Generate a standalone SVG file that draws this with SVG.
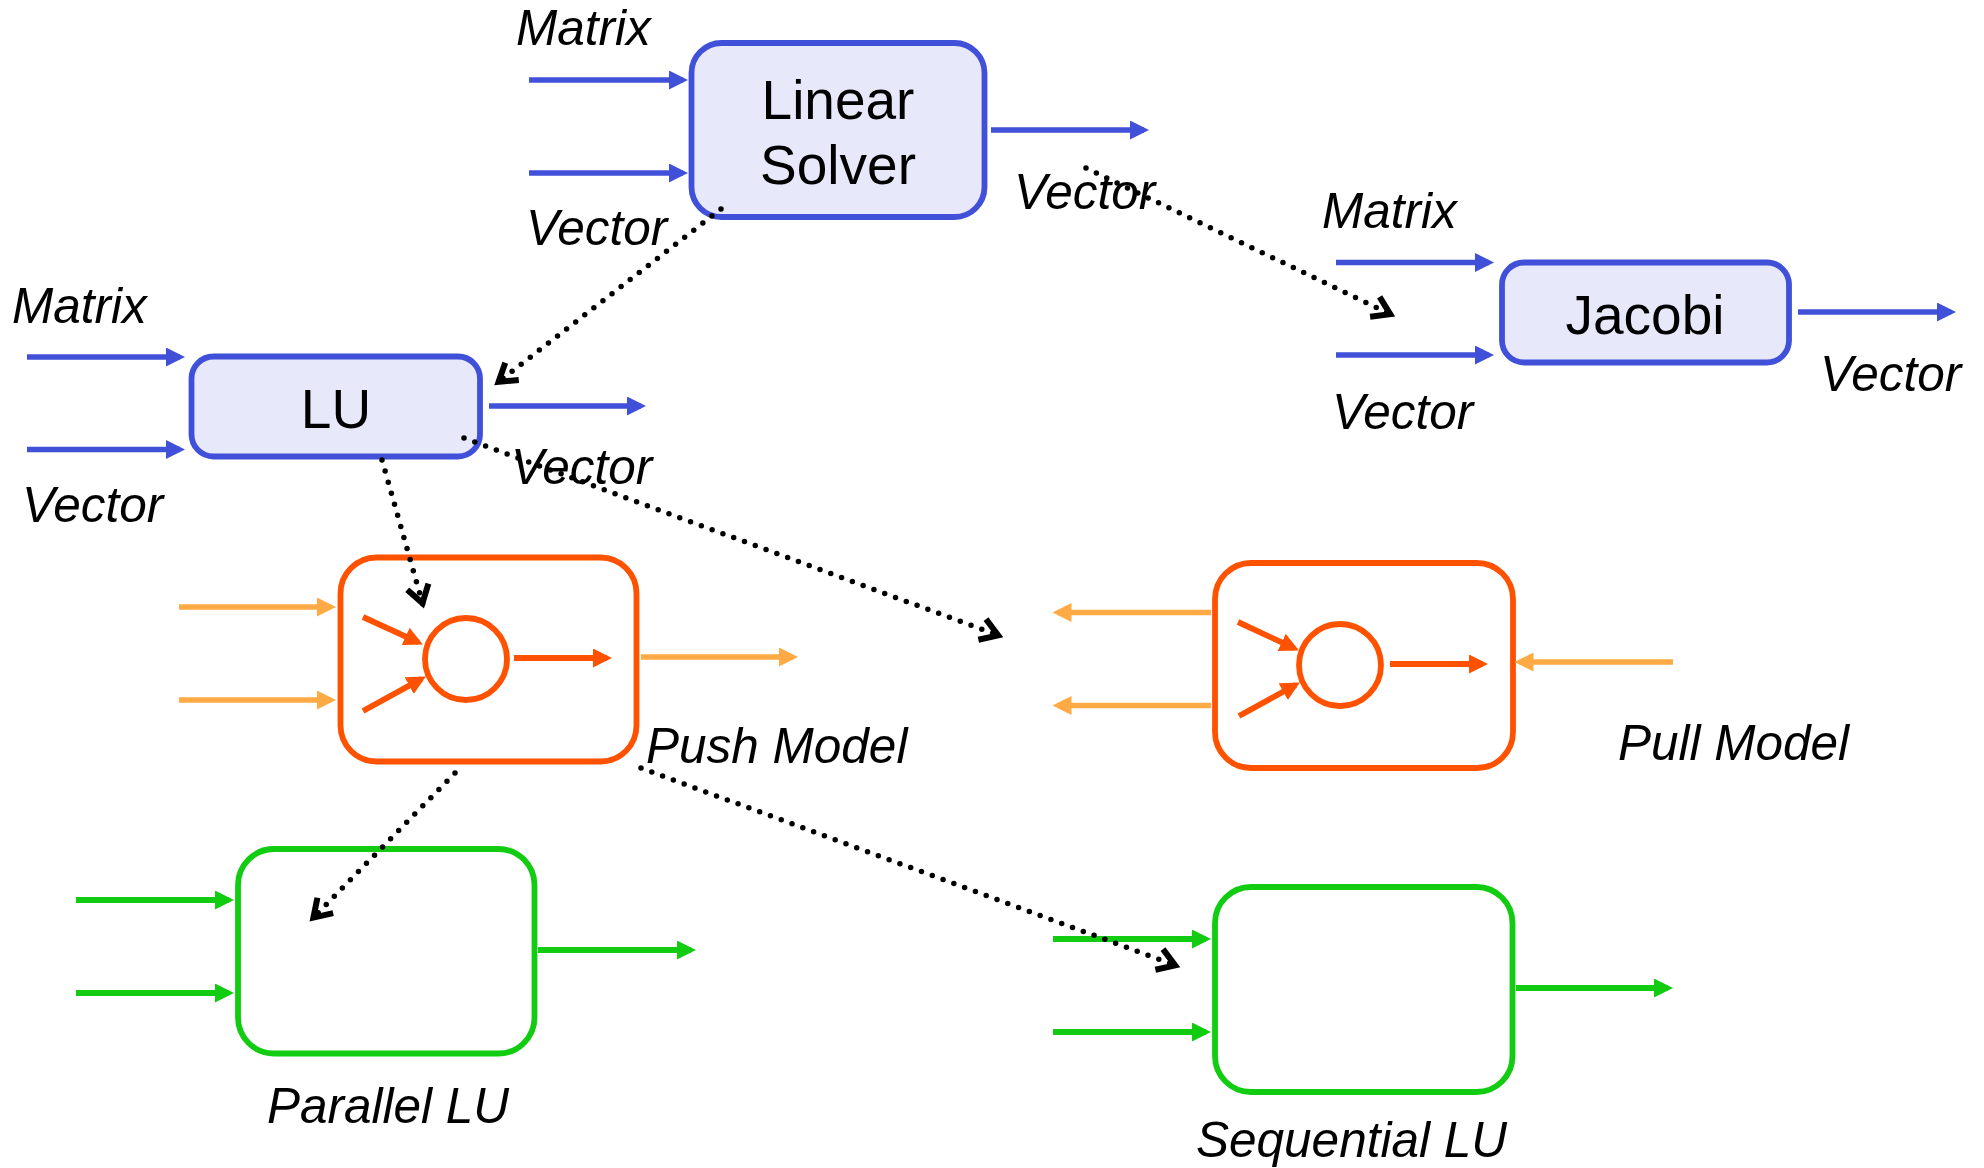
<svg xmlns="http://www.w3.org/2000/svg" width="1984" height="1168" viewBox="0 0 1984 1168">
  <style>
    .box { stroke-width: 5.8; }
    .blue { fill: #E8E8FB; stroke: #4150D8; }
    .orange { fill: #FFFFFF; stroke: #FF5200; }
    .green { fill: #FFFFFF; stroke: #11CC11; }
    .title { font-family: "Liberation Sans", Arial, sans-serif; font-size: 55px; fill: #000; text-anchor: middle; }
    .label { font-family: "Liberation Sans", Arial, sans-serif; font-size: 49.5px; font-style: italic; fill: #000; }
    .wb { stroke: #4150D8; stroke-width: 5.5; fill: none; marker-end: url(#hb); }
    .wl { stroke: #FFAA44; stroke-width: 5.5; fill: none; marker-end: url(#hl); }
    .wo { stroke: #FF5200; stroke-width: 5.8; fill: none; marker-end: url(#ho); }
    .wg { stroke: #11CC11; stroke-width: 5.8; fill: none; marker-end: url(#hg); }
    .dot { stroke: #000; stroke-width: 5.5; fill: none; stroke-dasharray: 0 11.5; stroke-linecap: round; marker-end: url(#hd); }
  </style>
  <defs>
    <marker id="hb" markerUnits="userSpaceOnUse" markerWidth="19" markerHeight="19" refX="14" refY="9.5" orient="auto"><path d="M0,0 L19,9.5 L0,19 z" fill="#4150D8"/></marker>
    <marker id="hl" markerUnits="userSpaceOnUse" markerWidth="19" markerHeight="19" refX="14" refY="9.5" orient="auto"><path d="M0,0 L19,9.5 L0,19 z" fill="#FFAA44"/></marker>
    <marker id="ho" markerUnits="userSpaceOnUse" markerWidth="19" markerHeight="19" refX="14" refY="9.5" orient="auto"><path d="M0,0 L19,9.5 L0,19 z" fill="#FF5200"/></marker>
    <marker id="hg" markerUnits="userSpaceOnUse" markerWidth="19" markerHeight="19" refX="14" refY="9.5" orient="auto"><path d="M0,0 L19,9.5 L0,19 z" fill="#11CC11"/></marker>
    <marker id="hd" markerUnits="userSpaceOnUse" markerWidth="30" markerHeight="30" viewBox="-25 -15 30 30" refX="0" refY="0" orient="auto" overflow="visible"><path d="M-19,-11 L-2,0 L-19,11" fill="none" stroke="#000" stroke-width="6" stroke-linejoin="miter"/></marker>
  </defs>

  <g id="linear-solver">
    <rect class="box blue" x="691.5" y="43" width="293" height="174" rx="30"/>
    <text class="title" x="838" y="119">Linear</text>
    <text class="title" x="838" y="184">Solver</text>
    <line class="wb" x1="529" y1="80" x2="683" y2="80"/>
    <line class="wb" x1="529" y1="173" x2="683" y2="173"/>
    <line class="wb" x1="991" y1="130" x2="1144" y2="130"/>
    <text class="label" x="516" y="45">Matrix</text>
    <text class="label" x="526" y="245">Vector</text>
    <text class="label" x="1014" y="209">Vector</text>
  </g>

  <g id="lu">
    <rect class="box blue" x="191.5" y="356.5" width="288.5" height="100" rx="22"/>
    <text class="title" x="336" y="428">LU</text>
    <line class="wb" x1="27" y1="357" x2="180" y2="357"/>
    <line class="wb" x1="27" y1="449.5" x2="180" y2="449.5"/>
    <line class="wb" x1="489" y1="406" x2="641" y2="406"/>
    <text class="label" x="12" y="323">Matrix</text>
    <text class="label" x="22" y="522">Vector</text>
    <text class="label" x="511" y="484">Vector</text>
  </g>

  <g id="jacobi">
    <rect class="box blue" x="1502" y="262.5" width="287" height="100" rx="22"/>
    <text class="title" x="1645" y="334">Jacobi</text>
    <line class="wb" x1="1336" y1="262.5" x2="1489" y2="262.5"/>
    <line class="wb" x1="1336" y1="355" x2="1489" y2="355"/>
    <line class="wb" x1="1798" y1="312" x2="1951" y2="312"/>
    <text class="label" x="1322" y="228">Matrix</text>
    <text class="label" x="1332" y="429">Vector</text>
    <text class="label" x="1820" y="391">Vector</text>
  </g>

  <g id="push-model">
    <rect class="box orange" x="340.5" y="557.5" width="296" height="204" rx="36"/>
    <circle cx="466" cy="659" r="41" fill="none" stroke="#FF5200" stroke-width="5.8"/>
    <line class="wo" x1="363" y1="617" x2="418.4" y2="642.3"/>
    <line class="wo" x1="363" y1="711" x2="421.5" y2="678.9"/>
    <line class="wo" x1="514" y1="658" x2="607" y2="658"/>
    <line class="wl" x1="179" y1="607" x2="331" y2="607"/>
    <line class="wl" x1="179" y1="700" x2="331" y2="700"/>
    <line class="wl" x1="641" y1="657" x2="793" y2="657"/>
    <text class="label" x="646" y="763">Push Model</text>
  </g>

  <g id="pull-model">
    <rect class="box orange" x="1215" y="563" width="298" height="205" rx="36"/>
    <circle cx="1340" cy="665" r="41" fill="none" stroke="#FF5200" stroke-width="5.8"/>
    <line class="wo" x1="1238" y1="622" x2="1294.4" y2="648.3"/>
    <line class="wo" x1="1239" y1="716" x2="1295.5" y2="684.9"/>
    <line class="wo" x1="1390" y1="664" x2="1483" y2="664"/>
    <line class="wl" x1="1211" y1="612.5" x2="1057.5" y2="612.5"/>
    <line class="wl" x1="1211" y1="705.5" x2="1057.5" y2="705.5"/>
    <line class="wl" x1="1673" y1="662" x2="1519.5" y2="662"/>
    <text class="label" x="1618" y="760">Pull Model</text>
  </g>

  <g id="parallel-lu">
    <rect class="box green" x="238" y="849" width="296.5" height="204.5" rx="36"/>
    <line class="wg" x1="76" y1="900" x2="229" y2="900"/>
    <line class="wg" x1="76" y1="993" x2="229" y2="993"/>
    <line class="wg" x1="538" y1="950" x2="691" y2="950"/>
    <text class="label" x="267" y="1123">Parallel LU</text>
  </g>

  <g id="sequential-lu">
    <rect class="box green" x="1215" y="887" width="297.5" height="205" rx="36"/>
    <line class="wg" x1="1053" y1="939" x2="1206" y2="939"/>
    <line class="wg" x1="1053" y1="1032" x2="1206" y2="1032"/>
    <line class="wg" x1="1516" y1="988" x2="1668" y2="988"/>
    <text class="label" x="1196" y="1157">Sequential LU</text>
  </g>

  <!-- dotted refinement links -->
  <g id="connectors">
    <line class="dot" x1="721" y1="209" x2="497" y2="383"/>
    <line class="dot" x1="1086" y1="168" x2="1392" y2="315"/>
    <line class="dot" x1="382" y1="460" x2="423" y2="605"/>
    <line class="dot" x1="464" y1="438" x2="1000" y2="636"/>
    <line class="dot" x1="455" y1="773" x2="312" y2="919"/>
    <line class="dot" x1="641" y1="768" x2="1177" y2="966"/>
  </g>
</svg>
